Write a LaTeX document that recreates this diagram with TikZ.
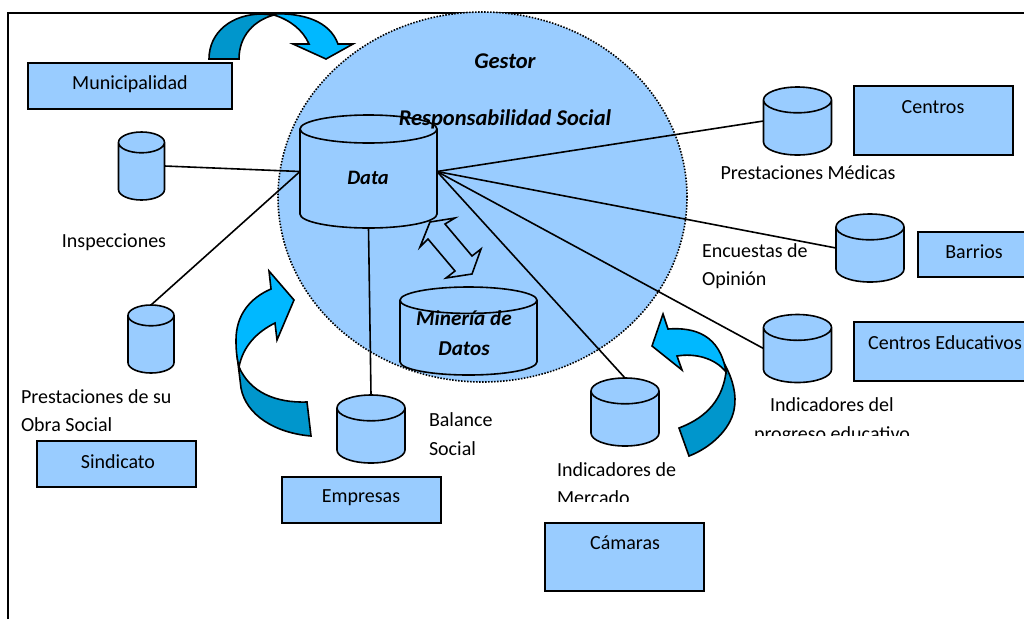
\documentclass[tikz,border=0pt]{standalone}
\usepackage{fontspec}
\setmainfont{Carlito}
\usetikzlibrary{shapes.geometric}
\definecolor{fondo}{HTML}{99CCFF}
\definecolor{flechaclara}{HTML}{00B8FF}
\definecolor{flechaoscura}{HTML}{0096CC}
\begin{document}
\begin{tikzpicture}
  [x=1pt,y=-1pt,line width=1.6pt,every node/.style={font=\fontsize{20}{28.5}\selectfont,inner sep=0pt,outer sep=0pt}]
  \tikzstyle{caja} = [draw,fill=fondo,anchor=north west]
  \tikzstyle{cilindro} = [draw,fill=fondo,cylinder,shape border rotate=90,anchor=shape center,inner xsep=30pt,inner ysep=0pt,aspect=.43,minimum width=68pt,minimum height=68pt]
  \tikzstyle{texto} = [align=left,anchor=west]
  \tikzstyle{negrita} = [font=\fontsize{22.5}{30}\selectfont\bfseries\itshape]
  \useasboundingbox (0,0) rectangle (1024,619);
  \clip (0,0) rectangle (1024,619);
  \draw (8,619) -- (8,13) -- (1024,13);
  % circulo del gestor
  \node (gestor) at (482.5,197) [draw,dash pattern=on 1.5pt off 1.5pt,fill=fondo,ellipse,minimum width=409pt,minimum height=370pt] {};
  % bases de datos
  \node (data) at (368.5,171.5) [cilindro,inner xsep=50pt,minimum width=137pt,minimum height=113pt,aspect=.28] {};
  \node (mineria) at (468.5,331) [cilindro,inner xsep=40pt,minimum width=137pt,minimum height=88pt,aspect=.33] {};
  \node (inspecciones) at (141.5,166) [cilindro,inner xsep=20pt,minimum width=46pt,aspect=.52] {};
  \node (obra) at (151,339) [cilindro,inner xsep=20pt,minimum width=46pt,aspect=.52] {};
  \node (balance) at (371,429) [cilindro] {};
  \node (mercado) at (625,412) [cilindro] {};
  \node (medicas) at (797.5,121) [cilindro] {};
  \node (encuestas) at (870,248) [cilindro] {};
  \node (progreso) at (797.5,348.5) [cilindro] {};
  % cajas
  \node (municipalidad) at (28,63) [caja,minimum width=204pt,minimum height=46pt] {};
  \node (centros) at (854,86) [caja,minimum width=159pt,minimum height=69pt] {};
  \node (barrios) at (918,232) [caja,minimum width=159pt,minimum height=45pt] {};
  \node (educativos) at (854,322) [caja,minimum width=190pt,minimum height=59pt] {};
  \node (sindicato) at (37,441) [caja,minimum width=159pt,minimum height=46pt] {};
  \node (empresas) at (282,477) [caja,minimum width=159pt,minimum height=46pt] {};
  \node (camaras) at (545,523) [caja,minimum width=159pt,minimum height=68pt] {};
  % lineas
  \foreach \dest in {medicas,encuestas,progreso}
   \draw (data.east |- data.shape center) -- (\dest.west |- \dest.shape center);
  \draw (data.west |- data.shape center) -- (inspecciones.east |- inspecciones.shape center);
  \draw (data.west |- data.shape center) -- (obra.top);
  \draw (data.east |- data.shape center) -- (mercado.top);
  \draw (data.bottom) -- (balance.top);
  % flechas curvas
  \draw[fill=flechaoscura] (209,59) .. controls (209,32) and (232,14) .. (262,14) -- (274,15) .. controls (255,20) and (239,35) .. (239,59) -- cycle;
  \draw[fill=flechaclara] (268,14) .. controls (305,12) and (330,22) .. (338,44) -- (353,44) -- (326,59) -- (293,44) -- (309,44) .. controls (303,30) and (290,20) .. (274,15) -- cycle;
  \draw[fill=flechaoscura] (237,355) -- (241,388) .. controls (246,415) and (275,433) .. (311,436) -- (307,402) .. controls (275,403) and (250,392) .. (239,367) -- cycle;
  \draw[fill=flechaclara] (239,367) .. controls (237,358) and (236,352) .. (236,340) .. controls (236,315) and (250,298) .. (271,289) -- (269,271) -- (294,300) -- (277,340) -- (275,323) .. controls (257,332) and (243,346) .. (239,367) -- cycle;
  \draw[fill=flechaoscura] (725,365) .. controls (733,380) and (737,395) .. (734,410) .. controls (730,430) and (710,448) .. (689,456) -- (679,428) .. controls (700,420) and (722,405) .. (726,372) -- cycle;
  \draw[fill=flechaclara] (726,372) .. controls (720,335) and (695,327) .. (668,329) -- (663,314) -- (652,346) -- (682,370) -- (677,356) .. controls (695,353) and (715,358) .. (726,372) -- cycle;
  % flecha doble
  \draw (430,222) -- (455,218) -- (445,224) -- (472,256) -- (481,249) -- (472,274) -- (446,278) -- (455,271) -- (428,239) -- (420,247) -- cycle;
  % textos
  \node (tgestor) at (505,61) [negrita] {Gestor};
  \node (tsocial) at (505,119) [negrita] {Responsabilidad Social};
  \node (tdata) at (368,178) [negrita,font=\fontsize{20.5}{28}\selectfont\bfseries\itshape] {Data};
  \node (tmineria) at (464,333) [negrita,align=center,font=\fontsize{21.2}{30}\selectfont\bfseries\itshape] {Minería de\\Datos};
  \node (tmunicipalidad) at (130,84) {Municipalidad};
  \node (tcentros) at (933,107) {Centros};
  \node (tbarrios) at (974,252) {Barrios};
  \node (teducativos) at (945,343) {Centros Educativos};
  \node (tsindicato) at (118,462) {Sindicato};
  \node (tempresas) at (361,498) {Empresas};
  \node (tcamaras) at (625,543) {Cámaras};
  \node (tinspecciones) at (114,242) {Inspecciones};
  \node (tmedicas) at (808,173) {Prestaciones Médicas};
  \node (tobra) at (21,410.5) [texto] {Prestaciones de su\\Obra Social};
  \node (tbalance) at (429,434) [texto] {Balance\\Social};
  \node (tencuestas) at (702,266) [texto] {Encuestas de\\Opinión};
  \begin{scope}
   \clip (540,450) rectangle (700,501);
   \node (tmercado) at (557,483.5) [texto] {Indicadores de\\Mercado};
  \end{scope}
  \begin{scope}
   \clip (740,390) rectangle (930,435);
   \node (tprogreso) at (832,421) [align=center] {Indicadores del\\progreso educativo};
  \end{scope}
\end{tikzpicture}
\end{document}
